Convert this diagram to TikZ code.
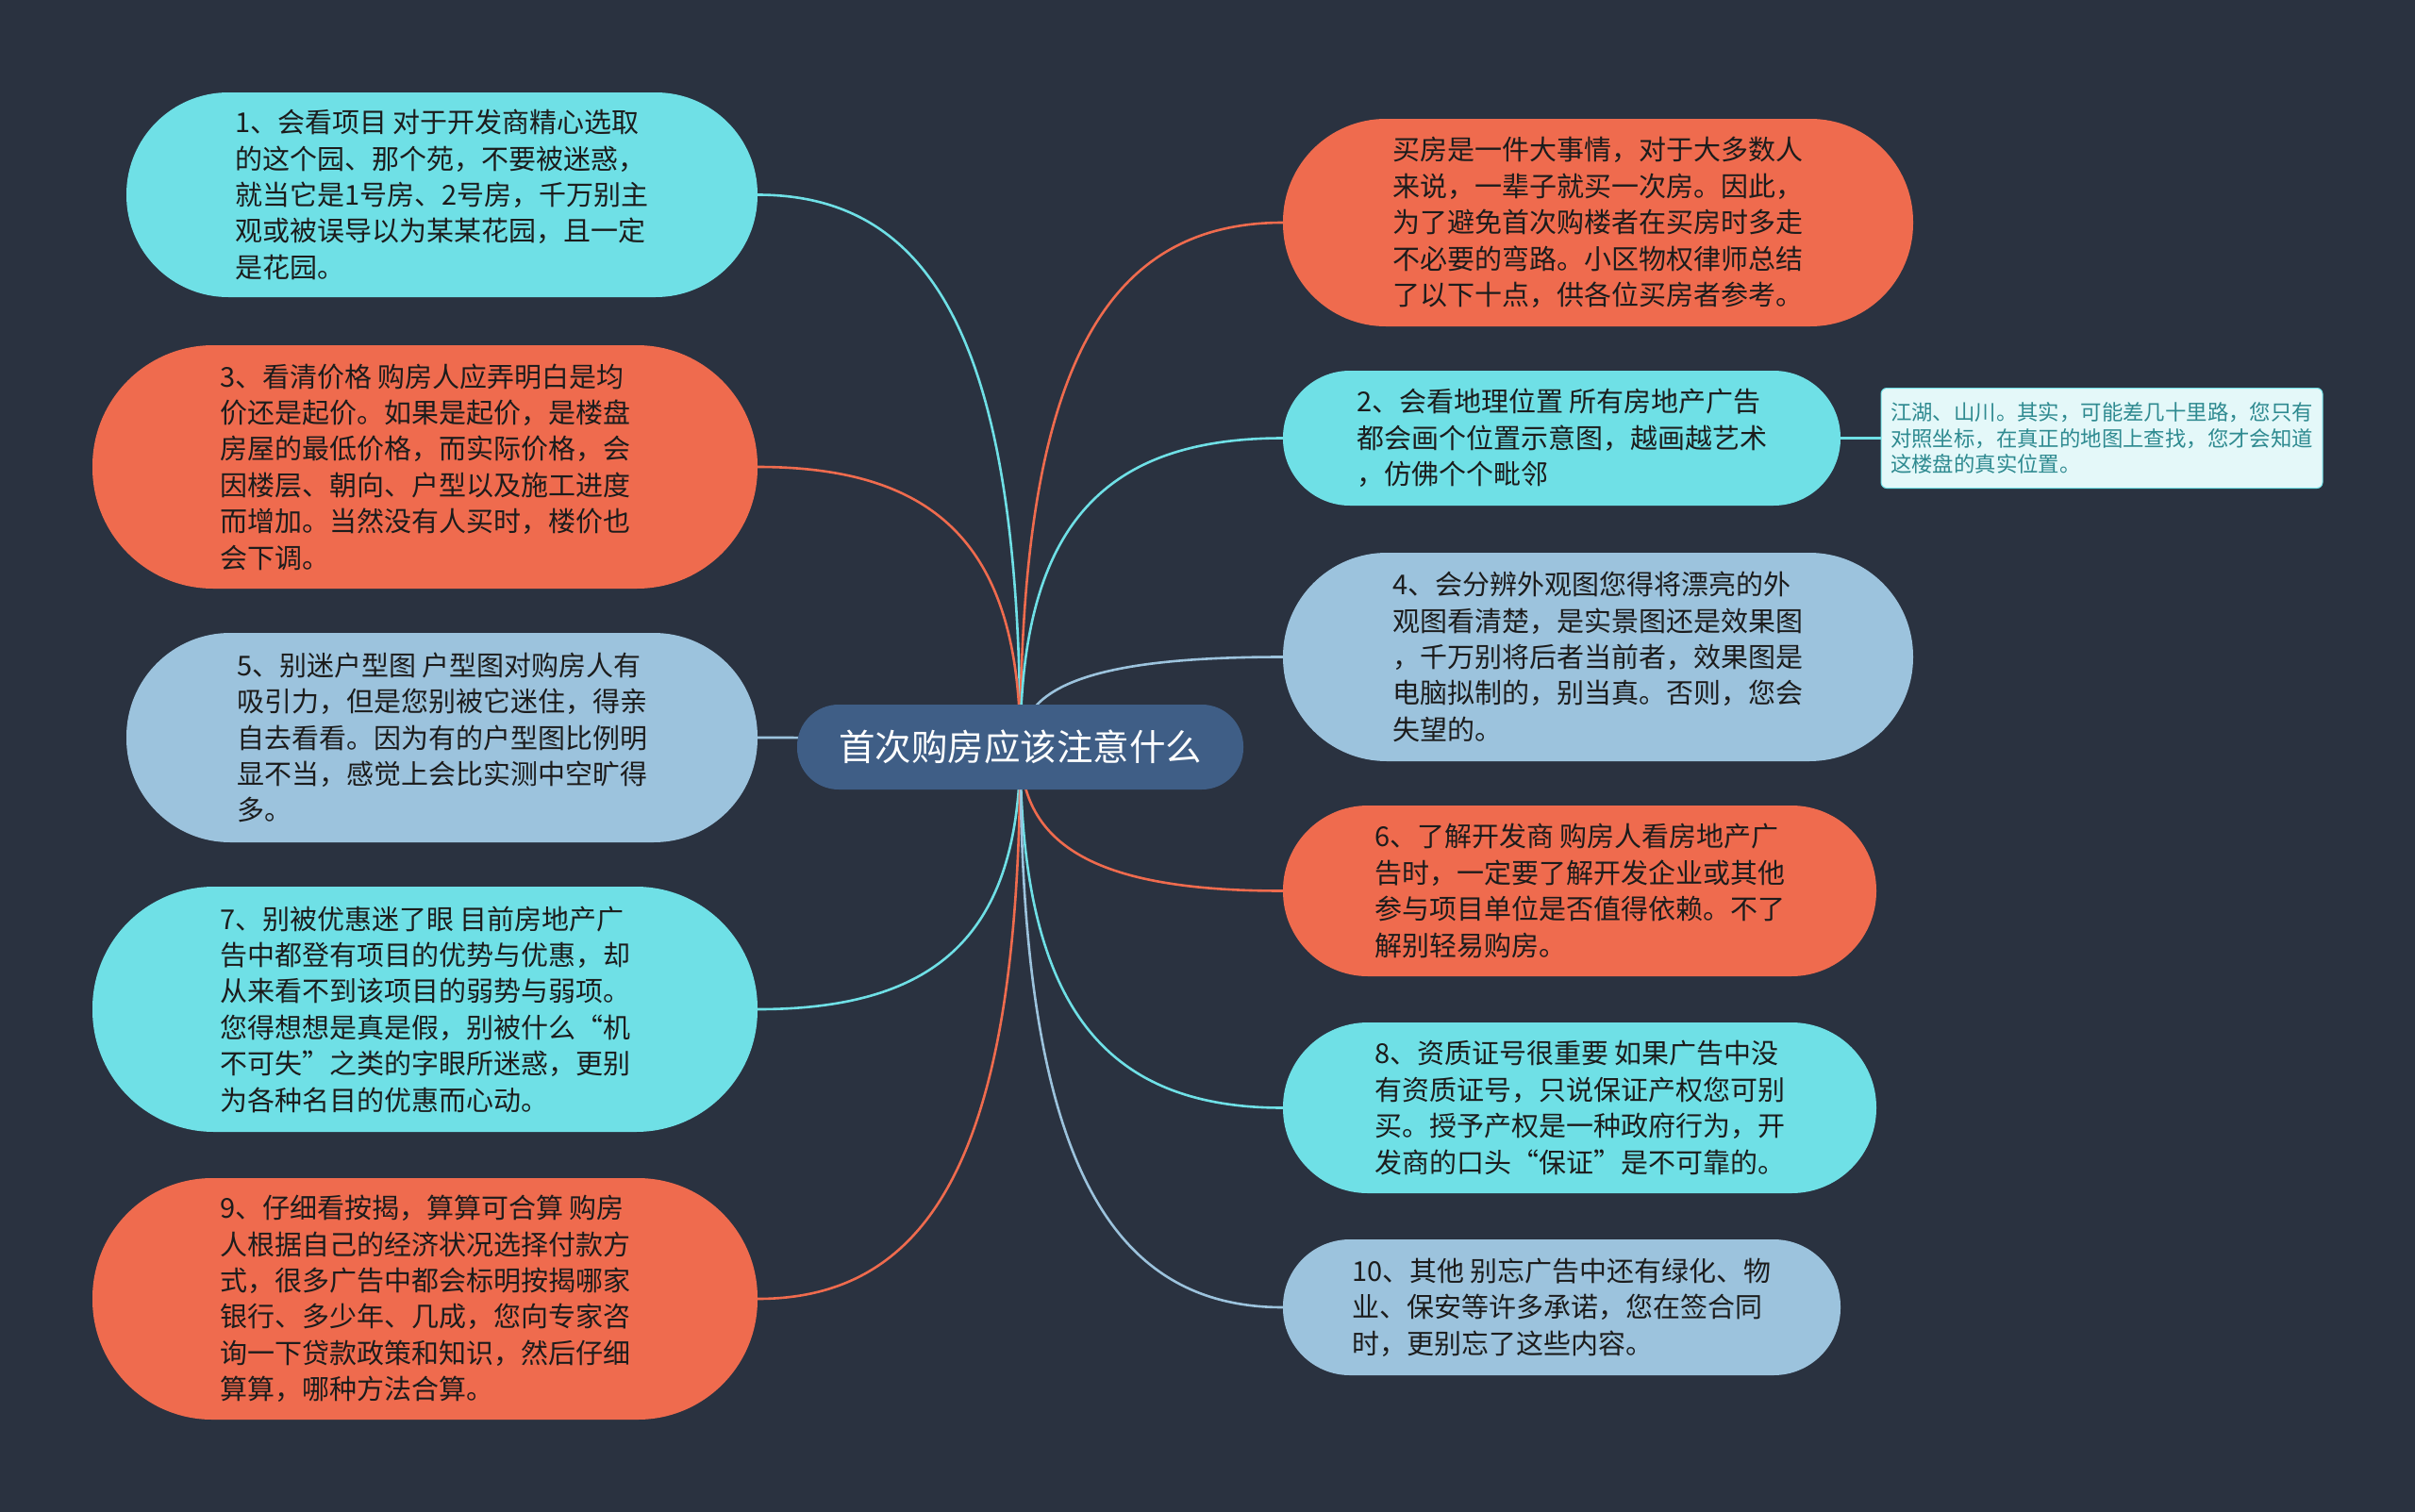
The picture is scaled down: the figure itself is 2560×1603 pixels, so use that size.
\documentclass[tikz,border=0pt]{standalone}
\usepackage{fontspec}
\setmainfont{Noto Sans CJK SC}
\usetikzlibrary{calc,backgrounds}
\definecolor{bgc}{HTML}{2A3240}
\definecolor{cyanC}{HTML}{6FE0E6}
\definecolor{orangeC}{HTML}{EF6B4E}
\definecolor{blueC}{HTML}{9CC3DD}
\definecolor{centerC}{HTML}{3F5E86}
\definecolor{childF}{HTML}{E4F8F9}
\definecolor{childT}{HTML}{2E8A90}
\definecolor{txtc}{HTML}{1C1C1C}
\begin{document}
\begin{tikzpicture}[x=1pt,y=-1pt,
  box/.style={align=left, text=txtc, font=\fontsize{29pt}{38.4pt}\selectfont, inner sep=0pt, xshift=0pt},
  conn/.style={line width=2.6pt}]
\useasboundingbox (0,0) rectangle (2560,1603);

\node[fill=centerC, text=white, font=\fontsize{38.5pt}{44pt}\selectfont, minimum width=473pt, minimum height=90pt, rounded corners=44pt, inner sep=0pt] (ctr) at (1081.5,792) {首次购房应该注意什么};

% left
\node[box, fill=cyanC, minimum width=669pt, minimum height=217pt, rounded corners=108pt] (n1) at (468.5,206.5) {1、会看项目 对于开发商精心选取\\的这个园、那个苑，不要被迷惑，\\就当它是1号房、2号房，千万别主\\观或被误导以为某某花园，且一定\\是花园。};
\node[box, fill=orangeC, minimum width=705pt, minimum height=258pt, rounded corners=128pt] (n3) at (450.5,495) {3、看清价格 购房人应弄明白是均\\价还是起价。如果是起价，是楼盘\\房屋的最低价格，而实际价格，会\\因楼层、朝向、户型以及施工进度\\而增加。当然没有人买时，楼价也\\会下调。};
\node[box, fill=blueC, minimum width=669pt, minimum height=222pt, rounded corners=110pt] (n5) at (468.5,782) {5、别迷户型图 户型图对购房人有\\吸引力，但是您别被它迷住，得亲\\自去看看。因为有的户型图比例明\\显不当，感觉上会比实测中空旷得\\多。};
\node[box, fill=cyanC, minimum width=705pt, minimum height=260pt, rounded corners=129pt] (n7) at (450.5,1070) {7、别被优惠迷了眼 目前房地产广\\告中都登有项目的优势与优惠，却\\从来看不到该项目的弱势与弱项。\\您得想想是真是假，别被什么“机\\不可失”之类的字眼所迷惑，更别\\为各种名目的优惠而心动。};
\node[box, fill=orangeC, minimum width=705pt, minimum height=256pt, rounded corners=127pt] (n9) at (450.5,1377) {9、仔细看按揭，算算可合算 购房\\人根据自己的经济状况选择付款方\\式，很多广告中都会标明按揭哪家\\银行、多少年、几成，您向专家咨\\询一下贷款政策和知识，然后仔细\\算算，哪种方法合算。};

% right
\node[box, fill=orangeC, minimum width=668pt, minimum height=220pt, rounded corners=109pt] (n0) at (1694,236) {买房是一件大事情，对于大多数人\\来说，一辈子就买一次房。因此，\\为了避免首次购楼者在买房时多走\\不必要的弯路。小区物权律师总结\\了以下十点，供各位买房者参考。};
\node[box, fill=cyanC, minimum width=591pt, minimum height=143pt, rounded corners=71pt] (n2) at (1655.5,464.5) {2、会看地理位置 所有房地产广告\\都会画个位置示意图，越画越艺术\\，仿佛个个毗邻};
\node[align=left, text=childT, font=\fontsize{22.4pt}{27.8pt}\selectfont, inner sep=0pt, fill=childF, draw=cyanC, line width=1pt, minimum width=468pt, minimum height=106pt, rounded corners=6pt] (n2c) at (2228,464.5) {江湖、山川。其实，可能差几十里路，您只有\\对照坐标，在真正的地图上查找，您才会知道\\这楼盘的真实位置。};
\node[box, fill=blueC, minimum width=668pt, minimum height=221pt, rounded corners=110pt] (n4) at (1694,696.5) {4、会分辨外观图您得将漂亮的外\\观图看清楚，是实景图还是效果图\\，千万别将后者当前者，效果图是\\电脑拟制的，别当真。否则，您会\\失望的。};
\node[box, fill=orangeC, minimum width=629pt, minimum height=181pt, rounded corners=90pt] (n6) at (1674.5,944.5) {6、了解开发商 购房人看房地产广\\告时，一定要了解开发企业或其他\\参与项目单位是否值得依赖。不了\\解别轻易购房。};
\node[box, fill=cyanC, minimum width=629pt, minimum height=181pt, rounded corners=90pt] (n8) at (1674.5,1174.5) {8、资质证号很重要 如果广告中没\\有资质证号，只说保证产权您可别\\买。授予产权是一种政府行为，开\\发商的口头“保证”是不可靠的。};
\node[box, fill=blueC, minimum width=591pt, minimum height=144pt, rounded corners=71pt] (n10) at (1655.5,1386) {10、其他 别忘广告中还有绿化、物\\业、保安等许多承诺，您在签合同\\时，更别忘了这些内容。};

\begin{pgfonlayer}{background}
\fill[bgc] (0,0) rectangle (2560,1603);
\foreach \n/\c in {n1/cyanC, n3/orangeC, n5/blueC, n7/cyanC, n9/orangeC}
  \draw[conn, draw=\c] (ctr.center) .. controls ($(ctr.center)!0.7!(ctr.center |- \n.east)$) and ($(\n.east)!0.7!(ctr.center |- \n.east)$) .. (\n.east);
\foreach \n/\c in {n0/orangeC, n2/cyanC, n4/blueC, n6/orangeC, n8/cyanC, n10/blueC}
  \draw[conn, draw=\c] (ctr.center) .. controls ($(ctr.center)!0.7!(ctr.center |- \n.west)$) and ($(\n.west)!0.7!(ctr.center |- \n.west)$) .. (\n.west);
\draw[conn, draw=cyanC] (n2.east) -- (n2c.west);
\end{pgfonlayer}
\end{tikzpicture}
\end{document}
